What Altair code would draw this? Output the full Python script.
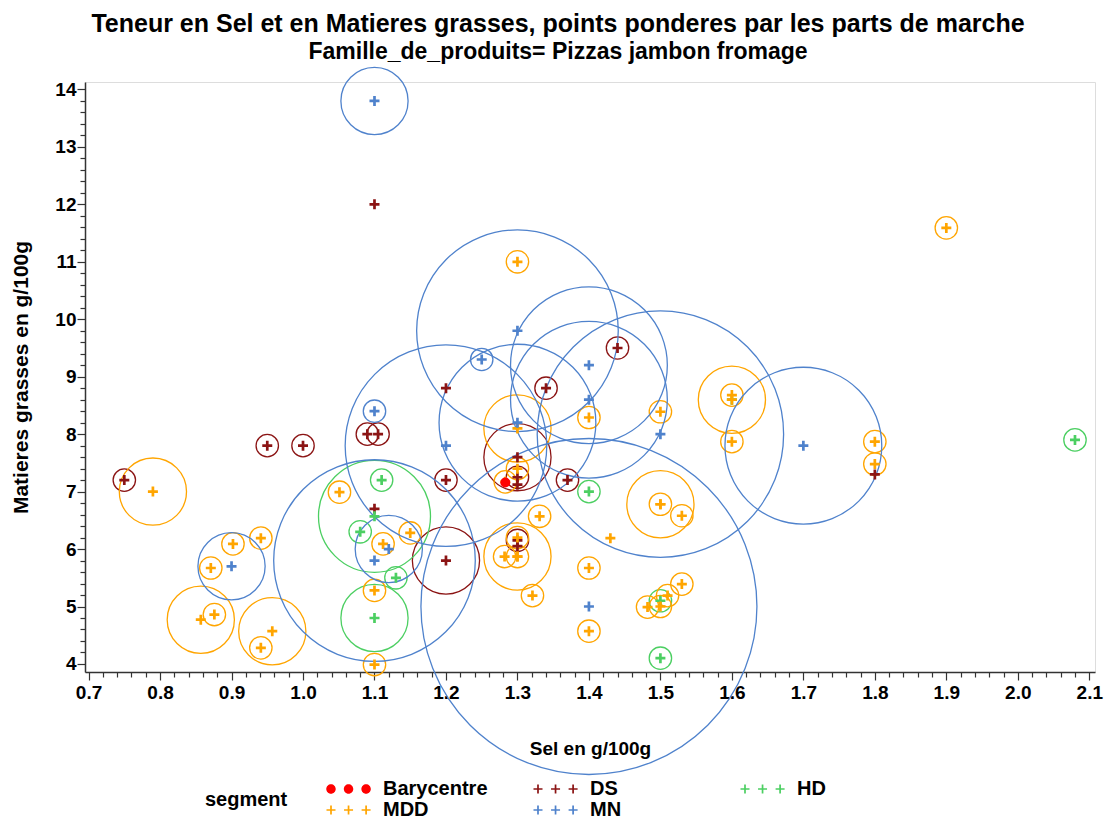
import altair as alt
import pandas as pd

# ---------------- data ----------------
segment_order = ["Barycentre", "DS", "HD", "MDD", "MN"]
segment_colors = ["#ff0000", "#8b1414", "#4ccf62", "#ffa500", "#4f82cc"]

# part de marche: bubble weight (0 = no bubble)
ds_sel = [0.75, 0.95, 1.00, 1.09, 1.105, 1.10, 1.10, 1.20, 1.34, 1.44, 1.20, 1.30, 1.30, 1.30, 1.37, 1.20, 1.30, 1.30, 1.80]
ds_mg = [7.2, 7.8, 7.8, 8.0, 8.0, 12.0, 6.7, 8.8, 8.8, 9.5, 7.2, 7.6, 7.25, 7.12, 7.2, 5.8, 6.15, 6.05, 7.3]
ds_part = [0.5, 0.5, 0.5, 0.5, 0.5, 0, 0, 0, 0.5, 0.5, 0.5, 1.5, 0.5, 0, 0.5, 1.5, 0.5, 0, 0]

hd_sel = [1.11, 1.08, 1.10, 1.13, 1.10, 1.40, 1.50, 1.50, 1.60, 2.08]
hd_mg = [7.2, 6.3, 6.57, 5.5, 4.8, 7.0, 5.1, 4.1, 8.6, 7.9]
hd_part = [0.5, 0.5, 2.5, 0.5, 1.5, 0.5, 0.5, 0.5, 0, 0.5]

mdd_sel = [0.79, 0.857, 0.876, 0.871, 0.902, 0.941, 0.941, 0.957, 1.051, 1.112, 1.15, 1.10, 1.10,
           1.30, 1.30, 1.30, 1.283, 1.331, 1.30, 1.30, 1.30, 1.282, 1.321, 1.40, 1.50, 1.60, 1.60,
           1.60, 1.50, 1.50, 1.53, 1.43, 1.40, 1.40, 1.482, 1.50, 1.51, 1.53, 1.90, 1.80, 1.80]
mdd_mg = [7.0, 4.77, 4.86, 5.67, 6.09, 6.19, 4.28, 4.57, 6.99, 6.09, 6.28, 5.28, 3.99,
          11.0, 8.1, 7.4, 7.17, 6.57, 6.2, 5.87, 5.87, 5.87, 5.19, 8.29, 8.39, 8.68, 8.6,
          7.87, 6.78, 6.78, 6.58, 6.19, 5.67, 4.57, 4.99, 5.0, 5.19, 5.39, 11.59, 7.87, 7.48]
mdd_part = [1.5, 1.5, 0.5, 0.5, 0.5, 0.5, 0.5, 1.5, 0.5, 0.5, 0.5, 0.5, 0.5,
            0.5, 1.5, 0.5, 0.5, 0.5, 0.5, 1.5, 0.5, 0.5, 0.5, 0.5, 0.5, 0.5, 1.5,
            0.5, 1.5, 0.5, 0.5, 0, 0.5, 0.5, 0.5, 0.5, 0.5, 0.5, 0.5, 0.5, 0.5]

mn_sel = [1.10, 1.30, 1.25, 1.40, 1.40, 1.30, 1.10, 1.50, 1.20, 1.70, 1.12, 1.10, 0.90, 1.40]
mn_mg = [13.8, 9.8, 9.3, 9.2, 8.6, 8.2, 8.4, 8.0, 7.8, 7.8, 6.0, 5.8, 5.7, 5.0]
mn_part = [1.5, 4.5, 0.5, 3.5, 3.5, 3.5, 0.5, 5.5, 4.5, 3.5, 1.5, 4.5, 1.5, 7.5]

bary_sel = [1.283]
bary_mg = [7.16]
bary_part = [0]

x_ticks = [round(0.7 + 0.02 * i, 2) for i in range(71)]
y_ticks = [round(4 + 0.2 * i, 1) for i in range(51)]

title_text = "Teneur en Sel et en Matieres grasses, points ponderes par les parts de marche"
subtitle_text = "Famille_de_produits= Pizzas jambon fromage"

# ---------------- table ----------------
frames = []
for name, s, m, p in [("DS", ds_sel, ds_mg, ds_part), ("HD", hd_sel, hd_mg, hd_part),
                      ("MDD", mdd_sel, mdd_mg, mdd_part), ("MN", mn_sel, mn_mg, mn_part),
                      ("Barycentre", bary_sel, bary_mg, bary_part)]:
    frames.append(pd.DataFrame({"segment": name, "sel": s, "mg": m, "part": p}))
df = pd.concat(frames, ignore_index=True)

FONT = "Liberation Sans"

def plus(cx, a=1.0, t=0.22):
    return (f"M{cx - a},{-t}H{cx - t}V{-a}H{cx + t}V{-t}H{cx + a}V{t}H{cx + t}V{a}"
            f"H{cx - t}V{t}H{cx - a}Z")

def dot(cx, r=1.0):
    return f"M{cx - r},0A{r},{r} 0 1,0 {cx + r},0A{r},{r} 0 1,0 {cx - r},0Z"

plot_plus = plus(0, 1, 0.27)
legend_plus = plus(0, 1, 0.19) + plus(3.9, 1, 0.19) + plus(7.8, 1, 0.19)
legend_dots = dot(0, 1.05) + dot(3.9, 1.05) + dot(7.8, 1.05)
legend_shapes = [legend_dots, legend_plus, legend_plus, legend_plus, legend_plus]

x_scale = alt.Scale(domain=[0.695, 2.108], nice=False, zero=False)
y_scale = alt.Scale(domain=[3.86, 14.13], nice=False, zero=False)
color_scale = alt.Scale(domain=segment_order, range=segment_colors)
shape_scale = alt.Scale(domain=segment_order, range=legend_shapes)

x_major_test = "abs(datum.value*10 - round(datum.value*10)) < 0.000001"
y_major_test = "abs(datum.value - round(datum.value)) < 0.000001"

x_axis = alt.Axis(
    values=x_ticks, title="Sel en g/100g", grid=False,
    labelExpr=f"({x_major_test}) ? format(datum.value, '.1f') : ''",
    labelOverlap=False, labelFlush=False,
    tickSize={"condition": {"test": x_major_test, "value": 8}, "value": 5},
    labelFontSize=19, labelFontWeight="bold", titleFontSize=19, titleFontWeight="bold",
    labelPadding=3, titlePadding=37, labelColor="black", titleColor="black",
    domainColor="#333333", domainWidth=1.5, tickColor="#333333", tickWidth=1.2,
)
y_axis = alt.Axis(
    values=y_ticks, title="Matieres grasses en g/100g", grid=False,
    labelExpr=f"({y_major_test}) ? format(datum.value, 'd') : ''",
    labelOverlap=False, labelFlush=False,
    tickSize={"condition": {"test": y_major_test, "value": 8}, "value": 5},
    labelFontSize=19, labelFontWeight="bold", titleFontSize=21, titleFontWeight="bold",
    labelPadding=1, titlePadding=23, labelColor="black", titleColor="black",
    domainColor="#333333", domainWidth=1.5, tickColor="#333333", tickWidth=1.2,
)

X = alt.X("sel:Q", scale=x_scale, axis=x_axis)
Y = alt.Y("mg:Q", scale=y_scale, axis=y_axis)

legend = alt.Legend(
    title="segment", orient="none", legendX=120, legendY=697, direction="horizontal",
    titleOrient="left", titleFontSize=20, titleFontWeight="bold", titleFont=FONT,
    titlePadding=33, titleColor="black",
    labelFontSize=20, labelFontWeight="bold", labelFont=FONT, labelColor="black",
    columns=3, gridAlign="all", columnPadding=40, rowPadding=1,
    labelOffset=42, symbolSize=81, symbolStrokeWidth=0, symbolOpacity=1,
)

# legend carrier: no marks, only the legend of the segment colours / symbols
legend_layer = alt.Chart(df).transform_filter("false").mark_point(
    filled=True, opacity=1
).encode(
    x=X, y=Y,
    color=alt.Color("segment:N", scale=color_scale, legend=legend),
    shape=alt.Shape("segment:N", scale=shape_scale, legend=legend),
)

bubbles = alt.Chart(df).transform_filter("datum.part > 0").mark_point(
    shape="circle", filled=False, strokeWidth=1.3, opacity=1
).encode(
    x=X, y=Y,
    size=alt.Size("part:Q", scale=alt.Scale(type="pow", exponent=2, domain=[0, 7.5],
                                            range=[0, 4 * 168 * 168]), legend=None),
    stroke=alt.Stroke("segment:N", scale=color_scale, legend=None),
)

crosses = alt.Chart(df).transform_filter("datum.segment !== 'Barycentre'").mark_point(
    shape=plot_plus, filled=True, size=100, opacity=1, strokeWidth=0
).encode(
    x=X, y=Y,
    color=alt.Color("segment:N", scale=color_scale),
)

bary = alt.Chart(df).transform_filter("datum.segment === 'Barycentre'").mark_point(
    shape="circle", filled=True, size=100, opacity=1, strokeWidth=0
).encode(
    x=X, y=Y,
    color=alt.Color("segment:N", scale=color_scale),
)

chart = alt.layer(legend_layer, bubbles, crosses, bary).properties(
    width=1010, height=590,
    title=alt.TitleParams(
        text=title_text, subtitle=subtitle_text, anchor="middle", frame="group",
        dx=-32, offset=1, font=FONT, fontSize=25, fontWeight="bold", color="black",
        subtitleFont=FONT, subtitleFontSize=23, subtitleFontWeight="bold",
        subtitleColor="black", subtitlePadding=4,
    ),
    autosize=alt.AutoSizeParams(type="none"),
    padding={"left": 77, "top": 74, "right": 11, "bottom": 149},
).configure_view(
    stroke="#333333", strokeWidth=1.5
).configure(
    font=FONT, background="white"
)

chart.save("out.html", embed_options={"renderer": "svg", "actions": False})
